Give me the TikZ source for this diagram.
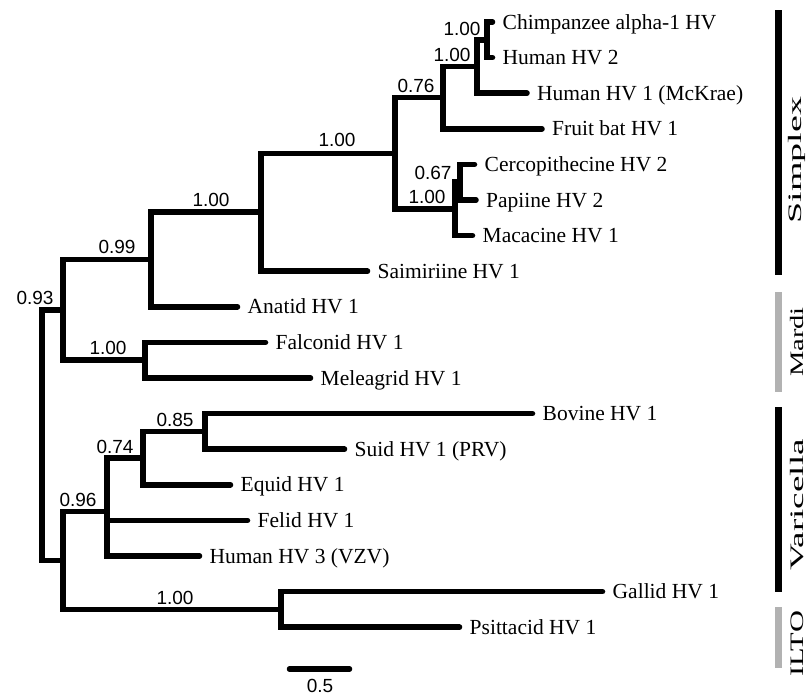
\documentclass[tikz,border=0pt]{standalone}
\usepackage{fontspec}
\setmainfont{Liberation Serif}
\newfontfamily\lsans{Liberation Sans}
\definecolor{barGray}{gray}{0.7}
\begin{document}
\begin{tikzpicture}[x=1pt,y=-1pt,
  br/.style={line width=5.5pt, line cap=round, line join=miter},
  taxon/.style={anchor=base west, inner sep=0pt, yshift=-7pt, font=\fontsize{21.5}{21.5}\selectfont},
  bs/.style={inner sep=0pt, font=\lsans\fontsize{19}{19}\selectfont},
  grpbar/.style={line width=7pt},
  grplab/.style={rotate=90, inner sep=0pt, font=\fontsize{19}{19}\selectfont}]
\useasboundingbox (0,0) rectangle (810,696);
% leaf tips
\coordinate (t0) at (492.5,22);
\coordinate (t1) at (492.5,57.6);
\coordinate (t2) at (527,93.2);
\coordinate (t3) at (542,128.8);
\coordinate (t4) at (474.5,164.4);
\coordinate (t5) at (476,200);
\coordinate (t6) at (472.5,235.6);
\coordinate (t7) at (367.5,271.2);
\coordinate (t8) at (237.5,306.8);
\coordinate (t9) at (265.5,342.4);
\coordinate (t10) at (310.5,378);
\coordinate (t11) at (532.5,413.6);
\coordinate (t12) at (344.5,449.2);
\coordinate (t13) at (230.5,484.8);
\coordinate (t14) at (247.5,520.4);
\coordinate (t15) at (199.5,556);
\coordinate (t16) at (602.5,591.6);
\coordinate (t17) at (459.5,627.2);
% internal nodes
\coordinate (n9) at (487,39.8);
\coordinate (n8) at (477,66.5);
\coordinate (n6) at (443,97.65);
\coordinate (n11) at (460,182.2);
\coordinate (n10) at (455,208.9);
\coordinate (n5) at (395,153.3);
\coordinate (n4) at (261,212.2);
\coordinate (n3) at (151,259.5);
\coordinate (n7) at (145,360.2);
\coordinate (n1) at (63,309.9);
\coordinate (nD) at (205,431.4);
\coordinate (nC) at (143,458.1);
\coordinate (nB) at (107,511.5);
\coordinate (nE) at (281,609.4);
\coordinate (nA) at (63,560.5);
\coordinate (r) at (42,435);
% branches
\draw[br] (t0) -| (n9) |- (t1);
\draw[br] (n9) -| (n8) |- (t2);
\draw[br] (n8) -| (n6) |- (t3);
\draw[br] (t4) -| (n11) |- (t5);
\draw[br] (n11) -| (n10) |- (t6);
\draw[br] (n6) -| (n5) |- (n10);
\draw[br] (n5) -| (n4) |- (t7);
\draw[br] (n4) -| (n3) |- (t8);
\draw[br] (t9) -| (n7) |- (t10);
\draw[br] (n3) -| (n1) |- (n7);
\draw[br] (t11) -| (nD) |- (t12);
\draw[br] (nD) -| (nC) |- (t13);
\draw[br] (nC) -| (nB) |- (t15);
\draw[br] (nB |- t14) -- (t14);
\draw[br] (t16) -| (nE) |- (t17);
\draw[br] (nB) -| (nA) |- (nE);
\draw[br] (n1) -| (r) |- (nA);
% taxa
\node[taxon] (l0) at ([xshift=10pt]t0) {Chimpanzee alpha-1 HV};
\node[taxon] (l1) at ([xshift=10pt]t1) {Human HV 2};
\node[taxon] (l2) at ([xshift=10pt]t2) {Human HV 1 (McKrae)};
\node[taxon] (l3) at ([xshift=10pt]t3) {Fruit bat HV 1};
\node[taxon] (l4) at ([xshift=10pt]t4) {Cercopithecine HV 2};
\node[taxon] (l5) at ([xshift=10pt]t5) {Papiine HV 2};
\node[taxon] (l6) at ([xshift=10pt]t6) {Macacine HV 1};
\node[taxon] (l7) at ([xshift=10pt]t7) {Saimiriine HV 1};
\node[taxon] (l8) at ([xshift=10pt]t8) {Anatid HV 1};
\node[taxon] (l9) at ([xshift=10pt]t9) {Falconid HV 1};
\node[taxon] (l10) at ([xshift=10pt]t10) {Meleagrid HV 1};
\node[taxon] (l11) at ([xshift=10pt]t11) {Bovine HV 1};
\node[taxon] (l12) at ([xshift=10pt]t12) {Suid HV 1 (PRV)};
\node[taxon] (l13) at ([xshift=10pt]t13) {Equid HV 1};
\node[taxon] (l14) at ([xshift=10pt]t14) {Felid HV 1};
\node[taxon] (l15) at ([xshift=10pt]t15) {Human HV 3 (VZV)};
\node[taxon] (l16) at ([xshift=10pt]t16) {Gallid HV 1};
\node[taxon] (l17) at ([xshift=10pt]t17) {Psittacid HV 1};
% support values
\node[bs] (b1) at (35,298) {0.93};
\node[bs] (b2) at (117,247) {0.99};
\node[bs] (b3) at (211,200) {1.00};
\node[bs] (b4) at (337,140) {1.00};
\node[bs] (b5) at (416,86) {0.76};
\node[bs] (b6) at (452,55) {1.00};
\node[bs] (b7) at (462,29) {1.00};
\node[bs] (b8) at (433,173) {0.67};
\node[bs] (b9) at (427,197) {1.00};
\node[bs] (b10) at (108,348) {1.00};
\node[bs] (b11) at (78,500) {0.96};
\node[bs] (b12) at (115,447) {0.74};
\node[bs] (b13) at (175,420) {0.85};
\node[bs] (b14) at (175,598) {1.00};
% scale bar
\coordinate (s1) at (289.5,669);
\coordinate (s2) at (349.5,669);
\draw[br] (s1) -- (s2);
\node[bs] (sl) at (320,686) {0.5};
% group bars
\coordinate (g1a) at (778.5,10);  \coordinate (g1b) at (778.5,275);
\coordinate (g2a) at (778.5,292); \coordinate (g2b) at (778.5,392);
\coordinate (g3a) at (778.5,407); \coordinate (g3b) at (778.5,592);
\coordinate (g4a) at (778.5,607); \coordinate (g4b) at (778.5,668);
\draw[grpbar, black] (g1a) -- (g1b);
\draw[grpbar, barGray] (g2a) -- (g2b);
\draw[grpbar, black] (g3a) -- (g3b);
\draw[grpbar, barGray] (g4a) -- (g4b);
\node[grplab] (gl1) at (797,160) {\scalebox{2.0}[1]{Simplex}};
\node[grplab] (gl2) at (797,342) {\scalebox{1.5}[1]{Mardi}};
\node[grplab] (gl3) at (797,505) {\scalebox{1.95}[1]{Varicella}};
\node[grplab] (gl4) at (797,644) {\scalebox{1.6}[1]{ILTO}};
\end{tikzpicture}
\end{document}
